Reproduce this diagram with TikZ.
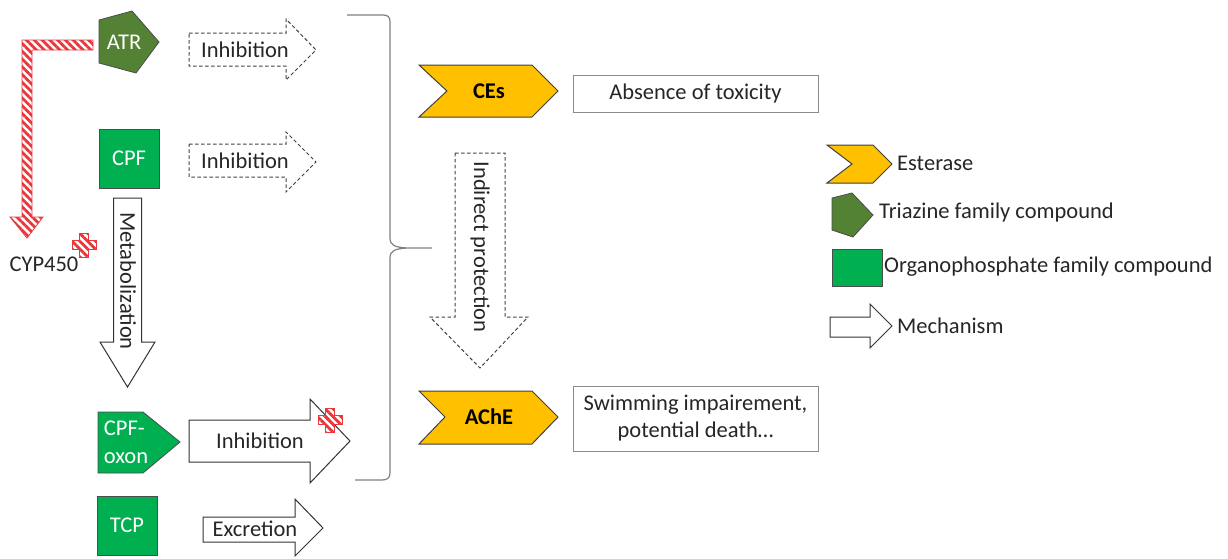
\documentclass[tikz,border=0pt]{standalone}
\usepackage{fontspec}
\setmainfont{Carlito}
\usetikzlibrary{patterns.meta}
\definecolor{amber}{HTML}{FFC000}
\definecolor{opgreen}{HTML}{00B050}
\definecolor{trigreen}{HTML}{548235}
\definecolor{stripered}{HTML}{E8383D}
\definecolor{txt}{HTML}{262626}
\begin{document}
\begin{tikzpicture}[x=1pt,y=-1pt,
  font=\fontsize{22.5}{27}\selectfont,
  txtnode/.style={text=txt, inner sep=0pt},
  wtxt/.style={text=white, inner sep=0pt},
  compound/.style={draw=black!70, line width=0.8pt},
  esterase/.style={draw=black!75, fill=amber, line width=1pt},
  mech/.style={draw=black!80, fill=white, line width=1pt},
  dmech/.style={draw=black!75, dashed, dash pattern=on 3.5pt off 2.5pt, line width=1pt},
  resbox/.style={draw=black!45, fill=white, line width=1pt},
  striped/.style={draw=stripered, line width=0.8pt,
    pattern={Lines[angle=-45,distance=5.5pt,line width=2.8pt]}, pattern color=stripered},
  redcross/.pic={\path[striped] (-4.5,-12) -- (4.5,-12) -- (4.5,-4.5) -- (12,-4.5) -- (12,4.5) -- (4.5,4.5) -- (4.5,12) -- (-4.5,12) -- (-4.5,4.5) -- (-12,4.5) -- (-12,-4.5) -- (-4.5,-4.5) -- cycle;},
  bracestyle/.style={draw=black!50, line width=1.2pt}
]
\useasboundingbox (0,0) rectangle (1228,558);

% ---- compounds ----
\path[compound, fill=trigreen] (99,20) -- (132,11) -- (159,42) -- (136,73) -- (99,63) -- cycle;
\node[wtxt] (atr) at (124,42) {ATR};

\path[compound, fill=opgreen] (99,129) rectangle (159,188);
\node[wtxt] (cpf) at (129,158) {CPF};

\path[compound, fill=opgreen] (98,412) -- (143,412) -- (180,442) -- (143,473) -- (98,473) -- cycle;
\node[wtxt, align=left, font=\fontsize{22.5}{28}\selectfont] (cpfoxon) at (126,442) {CPF-\\oxon};

\path[compound, fill=opgreen] (97,496) rectangle (157,555);
\node[wtxt] (tcp) at (127,525) {TCP};

% ---- striped CYP450 arrow ----
\path[striped] (93,40) -- (22,40) -- (22,217) -- (10,217) -- (27,238) -- (43,217) -- (32,217) -- (32,50) -- (93,50) -- cycle;
\node[txtnode] (cyp) at (44,264) {CYP450};
\pic at (84,245) {redcross};

% ---- mechanism arrows ----
\path[dmech] (189,33) -- (286,33) -- (286,19) -- (316,50) -- (286,80) -- (286,66) -- (189,66) -- cycle;
\node[txtnode] (inh1) at (245,50) {Inhibition};

\path[dmech] (189,144) -- (286,144) -- (286,132) -- (316,162) -- (286,192) -- (286,177) -- (189,177) -- cycle;
\node[txtnode] (inh2) at (245,161) {Inhibition};

\path[mech] (113.5,198) -- (141.5,198) -- (141.5,342) -- (155,342) -- (127.5,387) -- (100,342) -- (113.5,342) -- cycle;
\node[txtnode, rotate=-90] (metab) at (128,281) {Metabolization};

\path[mech] (189,420) -- (310,420) -- (310,399) -- (350,441) -- (310,483) -- (310,462) -- (189,462) -- cycle;
\node[txtnode] (inh3) at (260,441) {Inhibition};
\pic at (330,420) {redcross};

\path[mech] (203,517) -- (295,517) -- (295,499) -- (323,528) -- (295,556) -- (295,542) -- (203,542) -- cycle;
\node[txtnode] (excr) at (255,529) {Excretion};

% ---- brace ----
\path[bracestyle] (347,15) -- (383,15) .. controls (388,15) and (390,17) .. (390,22)
  -- (390,238) .. controls (390,246) and (396,247) .. (406,248) -- (432,248);
\path[bracestyle] (406,248) .. controls (396,249) and (390,250) .. (390,258)
  -- (390,473) .. controls (390,478) and (387,480) .. (382,480) -- (355,480);

% ---- esterases ----
\path[esterase] (419,65) -- (532,65) -- (558,91) -- (532,117) -- (419,117) -- (447,91) -- cycle;
\node[txtnode, font=\fontsize{22.5}{27}\selectfont\bfseries, text=black] (ces) at (489,91) {CEs};
\path[resbox] (573,75) rectangle (818,112);
\node[txtnode] (absence) at (695.5,93) {Absence of toxicity};

\path[dmech] (455,153) -- (505,153) -- (505,317) -- (528,317) -- (480,368) -- (430,317) -- (455,317) -- cycle;
\node[txtnode, rotate=-90] (indirect) at (480,247) {Indirect protection};

\path[esterase] (419,391) -- (532,391) -- (558,417) -- (532,444) -- (419,444) -- (445,417) -- cycle;
\node[txtnode, font=\fontsize{22.5}{27}\selectfont\bfseries, text=black] (ache) at (489,417) {AChE};
\path[resbox] (573,386) rectangle (818,451);
\node[txtnode, align=center, font=\fontsize{22.5}{26.5}\selectfont] (swim) at (695.5,418) {Swimming impairement,\\potential death\dots};

% ---- legend ----
\path[esterase] (827,145) -- (873,145) -- (892,164) -- (873,183) -- (827,183) -- (852,164) -- cycle;
\node[txtnode, anchor=west] (lest) at (897,163) {Esterase};
\path[compound, fill=trigreen] (832,198) -- (852,193) -- (873,215) -- (853,237) -- (832,230) -- cycle;
\node[txtnode, anchor=west] (ltri) at (879,212) {Triazine family compound};
\path[compound, fill=opgreen] (832,249) rectangle (882,286);
\node[txtnode, anchor=west] (lop) at (884,267) {Organophosphate family compound};
\path[mech] (830,317) -- (870,317) -- (870,304) -- (892,326) -- (870,348) -- (870,337) -- (830,337) -- cycle;
\node[txtnode, anchor=west] (lmech) at (897,326) {Mechanism};
\end{tikzpicture}
\end{document}
